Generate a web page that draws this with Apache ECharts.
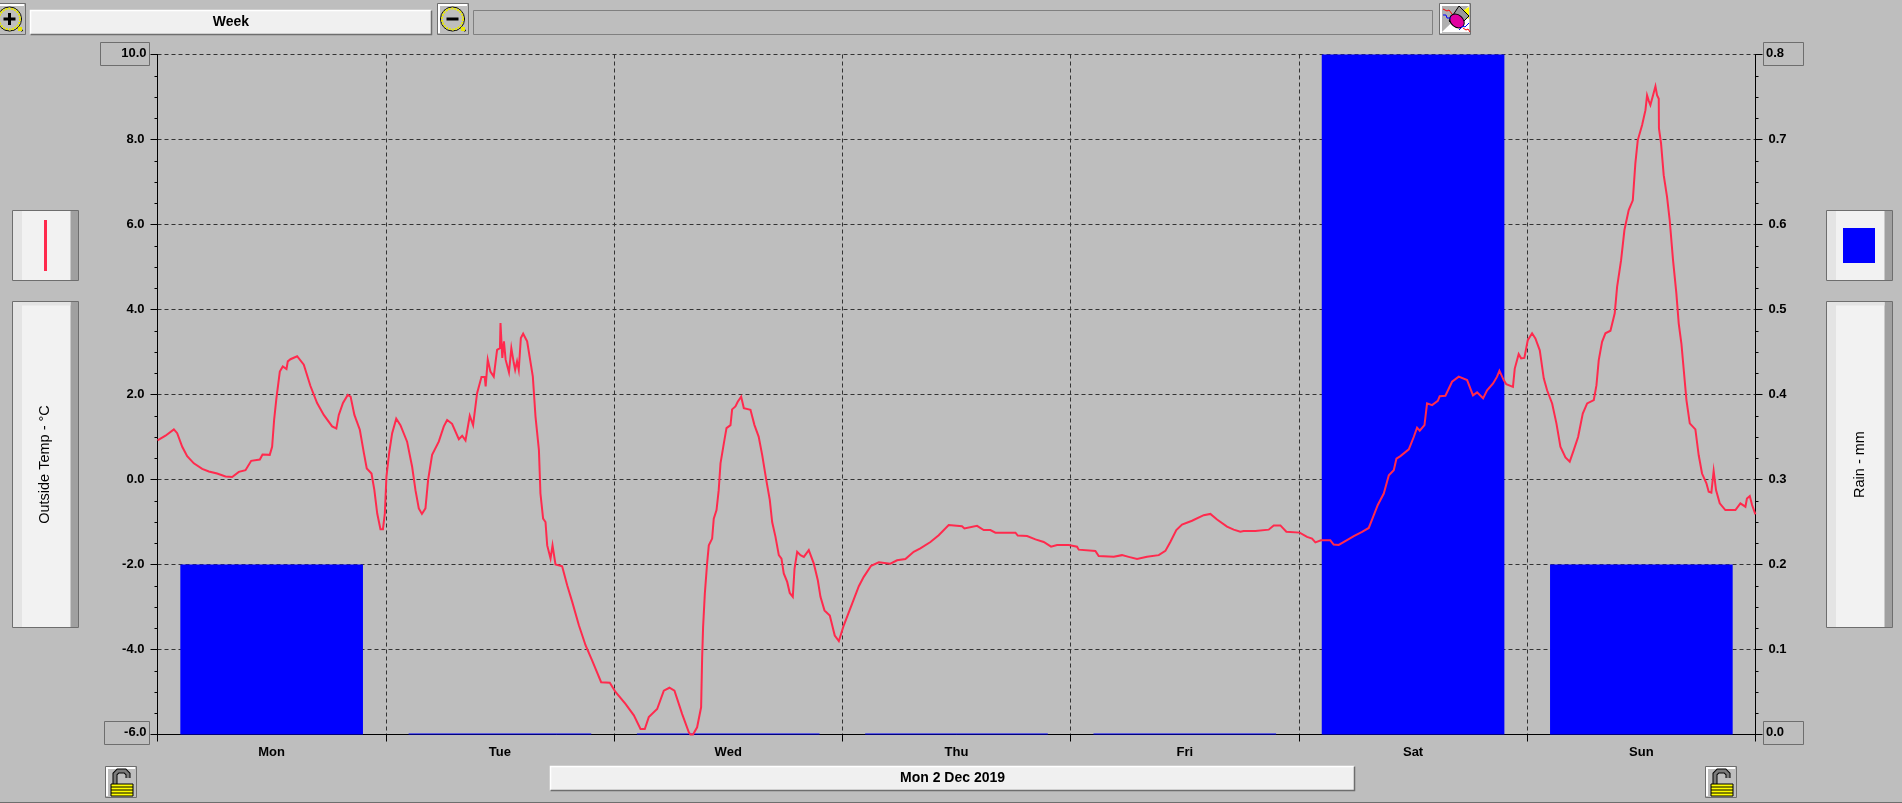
<!DOCTYPE html>
<html>
<head>
<meta charset="utf-8">
<style>html,body{margin:0;padding:0;background:#bebebe;overflow:hidden}#c{width:1902px;height:803px}</style>
<script src="https://cdn.jsdelivr.net/npm/echarts@6/dist/echarts.min.js"></script>
</head>
<body>
<div id="c"></div>
<script>
const days = ['Mon','Tue','Wed','Thu','Fri','Sat','Sun'];
const rainMm = [0.2,0,0,0,0,0.8,0.2];
const periodLabel = 'Week';
const dateLabel = 'Mon 2 Dec 2019';
const tempTitle = 'Outside Temp - °C';
const rainTitle = 'Rain - mm';
const tempMin = -6, tempMax = 10, rainMin = 0, rainMax = 0.8;
const hours = [0,0.84,1.72,2.07,2.6,3.12,3.82,4.7,5.4,6.27,7.15,7.85,8.55,9.25,9.85,10.76,11.04,11.8,12.05,12.26,12.5,12.86,13.17,13.56,13.7,13.98,14.68,15.38,16.08,16.78,17.48,18.36,18.8,19.06,19.5,20,20.3,20.7,21.27,21.7,22,22.5,22.8,23.1,23.44,23.7,23.9,24.07,24.35,24.67,25.1,25.54,26.24,26.77,27.12,27.47,27.8,28.17,28.45,28.87,29.57,30.1,30.45,30.97,31.68,32.03,32.38,32.83,33.18,33.6,34.06,34.4,34.5,34.72,35,35.35,35.7,36,36.06,36.25,36.42,36.6,36.75,36.95,37.2,37.46,37.6,37.8,37.98,38.2,38.44,38.86,39.04,39.46,39.74,40.1,40.26,40.54,40.79,40.97,41.32,41.53,41.84,42.54,43.07,43.6,44.3,45,45.7,46.64,47.55,48.15,49.2,50.08,50.78,51.23,51.65,52.53,53.23,53.82,54.35,55.16,55.86,56.03,56.3,56.73,57.15,57.26,57.36,57.54,57.78,57.96,58.31,58.48,58.77,59,59.19,59.54,59.82,60.24,60.41,60.76,61,61.36,61.64,62.34,62.76,63.2,63.57,64,64.37,64.62,64.97,65.32,65.6,65.84,66.2,66.47,66.79,66.97,67.25,67.6,67.95,68.47,69,69.42,69.7,70.12,70.68,71.2,71.63,72.15,73.03,73.73,74.25,75.02,75.83,77.05,77.75,78.63,79.5,80.2,81.26,82.13,83.18,84.58,84.83,86.16,86.86,87.56,88.09,90.2,90.44,91.42,92.3,93.17,93.94,94.57,95.8,95.97,96.67,96.85,98.6,98.95,100.53,101.4,102.1,102.98,104.03,105.26,105.96,106.48,107.11,107.71,108.76,109.99,110.69,111.39,112.44,113.14,113.84,114.19,115.42,116.82,117.35,118.05,118.68,120.08,120.85,121.38,121.73,122.32,123.3,123.65,124.18,125.1,125.77,126.64,127.34,127.8,128.29,128.92,129.45,129.97,130.25,130.67,131.55,132.07,132.42,132.7,133.2,133.47,134,134.6,134.8,135.4,136.1,136.8,137.68,138.3,138.73,139.36,139.78,140.41,140.83,141.08,141.53,141.8,142.5,142.69,143.1,143.36,143.7,144.06,144.51,144.86,145.32,145.74,146.09,146.62,147.07,147.49,148.02,148.47,148.89,149.35,149.84,150.3,151,151.28,151.52,151.87,152.22,152.75,153.2,153.45,153.87,154.22,154.67,155.1,155.37,155.62,156.08,156.43,156.6,156.78,156.95,157.23,157.48,157.65,157.83,157.85,158.07,158.35,158.7,158.98,159.33,159.68,159.93,160.21,160.46,160.74,161.09,161.68,162.03,162.38,162.84,163.08,163.36,163.6,163.85,164.24,164.83,165.89,166.41,166.94,167.1,167.4,167.64,167.99];
const tempC = [0.92,1.03,1.18,1.09,0.77,0.55,0.38,0.25,0.19,0.14,0.07,0.06,0.18,0.22,0.44,0.47,0.59,0.58,0.77,1.4,1.91,2.54,2.66,2.6,2.78,2.83,2.9,2.7,2.2,1.8,1.52,1.25,1.2,1.52,1.8,1.99,1.95,1.52,1.17,0.62,0.26,0.14,-0.25,-0.8,-1.17,-1.17,-0.8,0.07,0.62,1.09,1.43,1.28,0.89,0.3,-0.25,-0.68,-0.81,-0.68,-0.01,0.58,0.89,1.25,1.4,1.31,0.95,1.03,0.92,1.5,1.28,2.03,2.41,2.41,2.19,2.82,2.54,2.42,3.05,3.09,3.68,2.86,3.25,2.82,2.82,2.52,3.09,2.74,2.58,2.78,2.58,3.33,3.43,3.25,3.25,2.42,1.48,0.69,-0.33,-0.92,-1,-1.55,-1.86,-1.55,-2,-2.04,-2.49,-2.88,-3.43,-3.9,-4.26,-4.77,-4.78,-5,-5.28,-5.55,-5.87,-5.87,-5.59,-5.4,-4.97,-4.9,-4.97,-5.52,-5.95,-6,-6,-5.83,-5.36,-4.18,-3.47,-2.69,-1.98,-1.55,-1.39,-0.92,-0.72,-0.25,0.38,0.85,1.21,1.28,1.65,1.72,1.83,1.95,1.68,1.64,1.28,1.01,0.58,-0.01,-0.48,-1,-1.35,-1.78,-1.86,-2.21,-2.41,-2.67,-2.76,-2.1,-1.7,-1.78,-1.82,-1.66,-1.98,-2.37,-2.76,-3.08,-3.2,-3.67,-3.8,-3.43,-2.92,-2.51,-2.29,-2.03,-1.95,-1.98,-1.9,-1.87,-1.7,-1.62,-1.47,-1.31,-1.07,-1.1,-1.15,-1.09,-1.19,-1.19,-1.25,-1.25,-1.32,-1.33,-1.41,-1.47,-1.58,-1.54,-1.54,-1.58,-1.58,-1.65,-1.68,-1.8,-1.82,-1.78,-1.82,-1.87,-1.82,-1.78,-1.68,-1.47,-1.19,-1.06,-0.97,-0.84,-0.81,-0.94,-1.11,-1.18,-1.23,-1.21,-1.21,-1.18,-1.08,-1.08,-1.23,-1.25,-1.35,-1.39,-1.48,-1.43,-1.43,-1.53,-1.54,-1.42,-1.33,-1.23,-1.14,-0.88,-0.6,-0.33,0.1,0.22,0.49,0.55,0.71,1,1.22,1.15,1.28,1.79,1.75,1.85,1.96,1.97,2.3,2.42,2.34,1.98,2.05,1.91,2.1,2.26,2.42,2.56,2.34,2.24,2.18,2.61,2.95,2.85,2.86,3.28,3.44,3.32,3.04,2.38,2.1,1.79,1.32,0.77,0.52,0.42,0.69,1,1.55,1.79,1.87,2.22,2.81,3.24,3.44,3.5,3.91,4.53,5.16,5.87,6.34,6.57,7.44,7.98,8.34,8.69,9.04,8.91,8.81,9.04,9.25,9.04,8.96,8.26,7.91,7.16,6.65,6.1,5.16,4.38,3.67,3.2,2.57,1.87,1.32,1.18,0.57,0.14,-0.09,-0.29,-0.31,0.2,-0.25,-0.56,-0.72,-0.72,-0.56,-0.64,-0.45,-0.39,-0.6,-0.82];

const BG='#bebebe', EDGE='#6e6e6e', RED='#ff2a4d', BLUE='#0000ff';
const TICKFONT='bold 13px "Liberation Sans"';
const BARFONT='bold 14px "Liberation Sans"';
const g=[];
const rect=(x,y,w,h,fill,stroke)=>g.push({type:'rect',shape:{x,y,width:w,height:h},style:{fill:fill||'none',stroke:stroke||null,lineWidth:stroke?1:0},silent:true});
const text=(x,y,s,font,align)=>g.push({type:'text',x,y,style:{text:s,font:font||TICKFONT,fill:'#000',align:align||'center',verticalAlign:'middle'},silent:true});
const poly=(pts,fill,stroke,lw)=>g.push({type:fill?'polygon':'polyline',shape:{points:pts},style:{fill:fill||'none',stroke:stroke||null,lineWidth:lw||1},silent:true});

function bar(x,y,w,h,label){
  rect(x,y,w,h,'#f0f0f0');
  poly([[x,y+h],[x,y],[x+w,y]],null,'#ffffff',1.5);
  poly([[x+w,y],[x+w,y+h],[x,y+h]],null,EDGE,1.5);
  text(x+w/2,y+h/2,label,BARFONT);
}
function button(x,y,w,h){
  rect(x+.5,y+.5,w,h,'#bebebe',EDGE);
  poly([[x+2,y+h-1],[x+2,y+2],[x+w-1,y+2]],null,'#ffffff',2);
}
function magnifier(cx,cy,sign){
  g.push({type:'circle',shape:{cx,cy,r:12},style:{fill:'none',stroke:'#000',lineWidth:1},silent:true});
  g.push({type:'circle',shape:{cx,cy,r:10.5},style:{fill:'none',stroke:'#e8e800',lineWidth:2,lineDash:[2,1]},silent:true});
  poly([[cx+9,cy+9],[cx+13,cy+12]],null,'#000',2);
  rect(cx+8.5,cy+8,4,4,'#e8e800');
  rect(cx-6,cy-1.5,12,3,'#000');
  if(sign>0) rect(cx-1.5,cy-6,3,12,'#000');
}
function lock(x,y){
  button(x,y,31,31);
  const shackle=[[x+10,y+18],[x+10,y+8],[x+13,y+5],[x+20,y+5],[x+23,y+8],[x+23,y+12]];
  poly(shackle,null,'#000',5);
  poly(shackle,null,'#7a7a7a',3);
  rect(x+6,y+18,22,12,'#ffff00','#000');
  [21,24,27].forEach(d=>poly([[x+6,y+d],[x+28,y+d]],null,'#000',1));
}
function panel(x,y,w,h,top){
  rect(x,y,w,h,'#f2f2f2');
  rect(x,y,9.5,h,'#e4e4e4');
  rect(x+w-8,y,8,h,'#a0a0a0');
  if(top) rect(x+9.5,y,w-17.5,4,'#e4e4e4');
  rect(x,y,w,h,null,EDGE);
}
function endBox(x,y,w,h,label,align,tx){
  rect(x+.5,y+.5,w,h,null,EDGE);
  text(tx,y+h/2-.5,label,TICKFONT,align);
}

// top row
button(-6,3,31,31); magnifier(9.5,19,1);
bar(30.5,10.5,401,24,periodLabel);
button(437,3,31,31); magnifier(452.5,19,-1);
rect(473.5,10.5,959,24,null,'#808080');
// eraser icon
button(1439,3,31,31);
poly([[1442,6],[1469,6],[1442,32]],'#b0b0b0');
poly([[1442,32],[1469,6],[1469,32]],'#ffffff');
poly([[1469,7],[1469,19],[1459,13]],'#ffff00');
poly([[1459,6],[1469,16],[1457,28],[1449,21]],'#9a9a9a','#000',1);
g.push({type:'ellipse',shape:{cx:1457,cy:21,rx:8,ry:6},rotation:-0.7,originX:1457,originY:21,style:{fill:'#e000a0',stroke:'#000',lineWidth:1},silent:true});
poly([[1443,9],[1447,11],[1449,10],[1452,14]],null,'#ff0000',1);
poly([[1443,15],[1446,15],[1447,18],[1451,18]],null,'#0000ff',1);
poly([[1459,30],[1463,26],[1465,27],[1469,23]],null,'#0000ff',1);
poly([[1463,28],[1466,30],[1468,29],[1470,32]],null,'#ff0000',1);

// side panels
panel(12.5,210.5,66,70); rect(44,220,3,51,RED);
panel(12.5,301.5,66,326,true);
g.push({type:'text',x:45,y:464.5,rotation:Math.PI/2,style:{text:tempTitle,font:'14.5px "Liberation Sans"',fill:'#000',align:'center',verticalAlign:'middle'},silent:true});
panel(1826.5,210.5,66,70); rect(1843,228,32,35,BLUE);
panel(1826.5,301.5,66,326,true);
g.push({type:'text',x:1860,y:464.5,rotation:Math.PI/2,style:{text:rainTitle,font:'14.5px "Liberation Sans"',fill:'#000',align:'center',verticalAlign:'middle'},silent:true});

// boxed axis ends
endBox(100,42,49,23,tempMax.toFixed(1),'right',146.5);
endBox(104,721,45,23,tempMin.toFixed(1),'right',146.5);
endBox(1763,42,40,23,rainMax.toFixed(1),'left',1766);
endBox(1763,721,40,23,rainMin.toFixed(1),'left',1766);

// bottom row
lock(105,766); lock(1705,766);
bar(550.5,766.5,804,24,dateLabel);
rect(0,802,1902,1,EDGE);

const axisLine={show:true,onZero:false,lineStyle:{color:'#000',width:1}};
const grid={show:true,lineStyle:{color:'#333',width:1,type:[4,3]}};
const chart=echarts.init(document.getElementById('c'),null,{width:1902,height:803});
chart.setOption({
  animation:false,
  backgroundColor:BG,
  grid:{left:157.5,right:1902-1755.5,top:54.5,bottom:803-734.5},
  graphic:{elements:g},
  xAxis:[
    {type:'category',data:days,boundaryGap:true,position:'bottom',axisLine,
     axisTick:{show:true,length:7,lineStyle:{color:'#000',width:1}},
     axisLabel:{color:'#000',fontFamily:'Liberation Sans',fontWeight:'bold',fontSize:13,margin:11},
     splitLine:Object.assign({},grid)},
    {type:'value',min:0,max:168,show:false}
  ],
  yAxis:[
    {type:'value',min:tempMin,max:tempMax,interval:2,position:'left',axisLine,
     axisTick:{show:true,length:7,lineStyle:{color:'#000',width:1}},
     minorTick:{show:true,splitNumber:4,length:3,lineStyle:{color:'#000',width:1}},
     axisLabel:{color:'#000',fontFamily:'Liberation Sans',fontWeight:'bold',fontSize:13,margin:13,showMinLabel:false,showMaxLabel:false,formatter:v=>v.toFixed(1)},
     splitLine:Object.assign({},grid)},
    {type:'value',min:rainMin,max:rainMax,interval:0.1,position:'right',axisLine,
     axisTick:{show:true,length:7,lineStyle:{color:'#000',width:1}},
     minorTick:{show:true,splitNumber:4,length:3,lineStyle:{color:'#000',width:1}},
     axisLabel:{color:'#000',fontFamily:'Liberation Sans',fontWeight:'bold',fontSize:13,margin:13,showMinLabel:false,showMaxLabel:false,formatter:v=>v.toFixed(1)},
     splitLine:{show:false}}
  ],
  series:[
    {name:'Rain',type:'bar',xAxisIndex:0,yAxisIndex:1,data:rainMm,barWidth:'80%',barMinHeight:1,itemStyle:{color:BLUE},z:2,silent:true},
    {name:'Outside Temp',type:'line',xAxisIndex:1,yAxisIndex:0,data:hours.map((h,i)=>[h,tempC[i]]),showSymbol:false,symbol:'none',lineStyle:{color:RED,width:2,join:'miter'},z:3,silent:true,clip:false}
  ]
});
</script>
</body>
</html>
